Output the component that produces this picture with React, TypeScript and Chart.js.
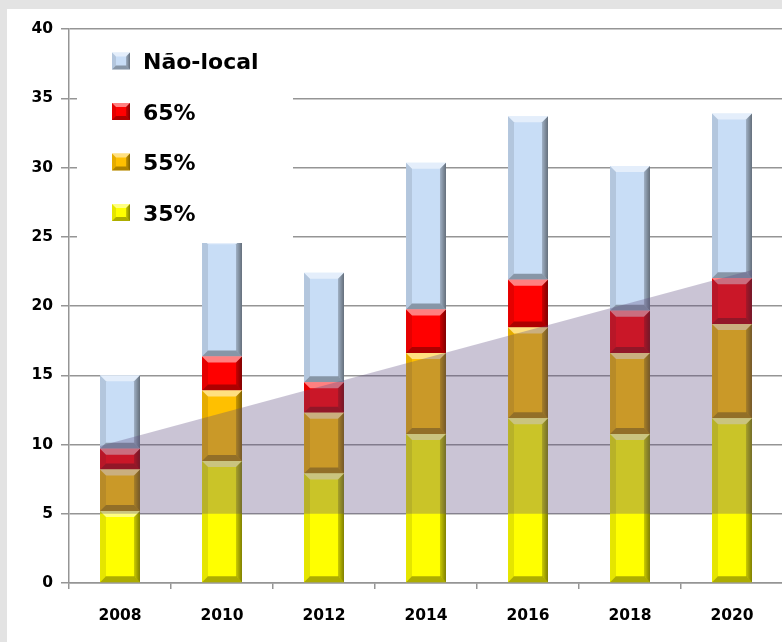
import { useEffect, useRef } from 'react';
import { Chart, registerables } from 'chart.js';

Chart.register(...registerables);

// ---- data ----
const years = ['2008', '2010', '2012', '2014', '2016', '2018', '2020'];
const share35 = [5.2, 8.8, 7.9, 10.75, 11.9, 10.75, 11.9];
const share55 = [3.0, 5.1, 4.4, 5.85, 6.55, 5.85, 6.8];
const share65 = [1.5, 2.45, 2.2, 3.15, 3.45, 3.05, 3.3];
const naoLocal = [5.3, 8.55, 7.9, 10.6, 11.8, 10.45, 11.9];
const seriesLabels = ['35%', '55%', '65%', 'Não-local'];
const yMin = 0;
const yMax = 40;
const yStep = 5;
// shaded band: bottom value, top value at first and last year
const shadeBase = 5;
const shadeTopFirst = 9.9;
const shadeTopLast = 22.6;

// ---- styles ----
const COLORS = ['#ffff00', '#ffc000', '#ff0000', '#c8ddf6'];
const BAR_PCT = 0.392;
const SHADE_COLOR = 'rgba(91,72,125,0.32)';
const GRID = '#959595';
const TICK_FONT = { family: '"DejaVu Sans", sans-serif', size: 15.5, weight: 'bold' as const };

function poly(ctx: CanvasRenderingContext2D, pts: number[][]) {
  ctx.beginPath();
  ctx.moveTo(pts[0][0], pts[0][1]);
  for (let i = 1; i < pts.length; i++) ctx.lineTo(pts[i][0], pts[i][1]);
  ctx.closePath();
  ctx.fill();
}

function bevel(ctx: CanvasRenderingContext2D, l: number, t: number, r: number, b: number, dd: number) {
  const h = b - t;
  const w = r - l;
  const d = Math.max(0, Math.min(dd, h / 2.5, w / 2.5));
  if (d <= 0) return;
  ctx.fillStyle = 'rgba(255,255,255,0.5)';
  poly(ctx, [[l, t], [r, t], [r - d, t + d], [l + d, t + d]]);
  ctx.fillStyle = 'rgba(0,0,0,0.1)';
  poly(ctx, [[l, t], [l + d, t + d], [l + d, b - d], [l, b]]);
  const g = ctx.createLinearGradient(r - d, 0, r, 0);
  g.addColorStop(0, 'rgba(0,0,0,0.2)');
  g.addColorStop(1, 'rgba(0,0,0,0.5)');
  ctx.fillStyle = g;
  poly(ctx, [[r, t], [r, b], [r - d, b - d], [r - d, t + d]]);
  ctx.fillStyle = 'rgba(0,0,0,0.32)';
  poly(ctx, [[l, b], [l + d, b - d], [r - d, b - d], [r, b]]);
}

const bevelPlugin = {
  id: 'bevelBars',
  afterDatasetDraw(chart: any, args: any) {
    const meta = args.meta;
    if (meta.type !== 'bar') return;
    const ctx = chart.ctx as CanvasRenderingContext2D;
    ctx.save();
    meta.data.forEach((el: any) => {
      const p = el.getProps(['x', 'y', 'base', 'width'], true);
      const l = p.x - p.width / 2;
      const r = p.x + p.width / 2;
      const t = Math.min(p.y, p.base);
      const b = Math.max(p.y, p.base);
      bevel(ctx, l, t, r, b, 6);
    });
    ctx.restore();
  },
};

const legendPlugin = {
  id: 'insideLegend',
  afterDraw(chart: any) {
    const ctx = chart.ctx as CanvasRenderingContext2D;
    const area = chart.chartArea;
    const items = chart.data.datasets.filter((d: any) => d.type !== 'line').slice().reverse();
    ctx.save();
    ctx.fillStyle = '#ffffff';
    ctx.fillRect(area.left + 8, area.top + 3, 216, 211);
    ctx.font = 'bold 22px "DejaVu Sans", sans-serif';
    ctx.textBaseline = 'alphabetic';
    ctx.textAlign = 'left';
    items.forEach((ds: any, i: number) => {
      const cy = area.top + 32 + i * 50.5;
      const mx = area.left + 43;
      ctx.fillStyle = ds.backgroundColor;
      ctx.fillRect(mx, cy - 8.5, 18, 17);
      bevel(ctx, mx, cy - 8.5, mx + 18, cy + 8.5, 4);
      ctx.fillStyle = '#000000';
      ctx.fillText(ds.label, area.left + 74, cy + 8);
    });
    ctx.restore();
  },
};

export default function App() {
  const ref = useRef<HTMLCanvasElement | null>(null);

  useEffect(() => {
    document.body.style.margin = '0';
    if (!ref.current) return;
    const values = [share35, share55, share65, naoLocal];
    const barSets = values.map((v, i) => ({
      type: 'bar' as const,
      label: seriesLabels[i],
      data: v,
      backgroundColor: COLORS[i],
      borderWidth: 0,
      grouped: false,
      order: 1,
      barPercentage: BAR_PCT,
      categoryPercentage: 1,
    }));
    const shade = {
      type: 'line' as const,
      label: 'shade',
      data: [
        { x: 0 - BAR_PCT / 2, y: shadeTopFirst },
        { x: years.length - 1 + BAR_PCT / 2, y: shadeTopLast },
      ],
      xAxisID: 'x2',
      fill: { value: shadeBase },
      backgroundColor: SHADE_COLOR,
      borderWidth: 0,
      borderColor: 'rgba(0,0,0,0)',
      pointRadius: 0,
      order: 0,
    };
    const chart = new Chart(ref.current, {
      type: 'bar',
      data: { labels: years, datasets: [...barSets, shade] as any },
      options: {
        animation: false,
        responsive: true,
        maintainAspectRatio: false,
        events: [],
        layout: { padding: { top: 20, right: 4, left: 0, bottom: 0 } },
        plugins: { legend: { display: false }, tooltip: { enabled: false } },
        scales: {
          x: {
            stacked: true,
            offset: true,
            grid: { offset: true, drawOnChartArea: false, drawTicks: true, tickLength: 6, color: GRID, lineWidth: 1.5 },
            border: { display: true, color: GRID, width: 1.5 },
            ticks: { color: '#000', font: TICK_FONT, padding: 18, maxRotation: 0 },
            afterFit: (s: any) => { s.height = 59; },
          },
          x2: {
            type: 'linear',
            display: false,
            offset: false,
            bounds: 'data',
            min: -0.5,
            max: years.length - 0.5,
            grid: { offset: false },
          },
          y: {
            stacked: true,
            min: yMin,
            max: yMax,
            ticks: { stepSize: yStep, color: '#000', font: TICK_FONT, padding: 8 },
            grid: { color: GRID, lineWidth: 1.5, tickLength: 8, drawTicks: true },
            border: { display: true, color: GRID, width: 1.5 },
            afterFit: (s: any) => { s.width = 62; },
          },
        },
      } as any,
      plugins: [bevelPlugin, legendPlugin],
    });
    return () => chart.destroy();
  }, []);

  return (
    <div style={{ position: 'relative', width: 782, height: 642, overflow: 'hidden', background: '#e3e3e3' }}>
      <div style={{ position: 'absolute', left: 7, top: 9, width: 780, height: 633, background: '#ffffff' }}>
        <canvas ref={ref} />
      </div>
    </div>
  );
}
